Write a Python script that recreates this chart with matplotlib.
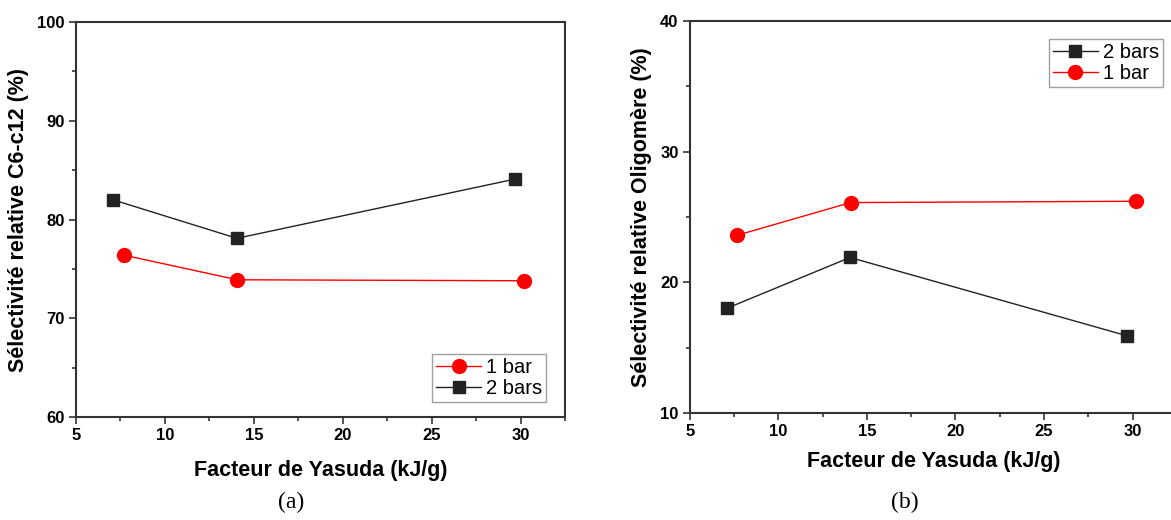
import matplotlib.pyplot as plt
from matplotlib.ticker import MultipleLocator

# Facteur de Yasuda (kJ/g)
x_2bars = [7.08, 14.05, 29.7]
x_1bar = [7.68, 14.08, 30.2]

# (a) Sélectivité relative C6-C12 (%)
c6c12_2bars = [82.0, 78.1, 84.1]
c6c12_1bar = [76.4, 73.9, 73.8]

# (b) Sélectivité relative Oligomère (%)
oligo_2bars = [18.0, 21.9, 15.9]
oligo_1bar = [23.6, 26.1, 26.2]

plt.rcParams['font.family'] = ['Liberation Sans', 'DejaVu Sans']

fig = plt.figure(figsize=(11.71, 5.2), dpi=100)
ax1 = fig.add_axes([0.0649, 0.198, 0.4176, 0.7596])
ax2 = fig.add_axes([0.589, 0.2058, 0.416, 0.754])

spine_col = '#333333'
leg_kw = dict(fontsize=14.5, frameon=True, fancybox=False, edgecolor='#888888',
              handlelength=2.2, handletextpad=0.25, borderpad=0.2,
              labelspacing=0.1, borderaxespad=0)


def style_axis(ax, ylim, ylabel, xpad):
    ax.set_xlim(5, 32.5)
    ax.set_ylim(*ylim)
    ax.xaxis.set_major_locator(MultipleLocator(5))
    ax.xaxis.set_minor_locator(MultipleLocator(2.5))
    ax.yaxis.set_major_locator(MultipleLocator(10))
    ax.yaxis.set_minor_locator(MultipleLocator(5))
    for s in ax.spines.values():
        s.set_linewidth(1.5)
        s.set_color(spine_col)
    ax.tick_params(which='both', direction='out', color=spine_col, width=1.2)
    ax.tick_params(which='major', length=5, labelsize=12, pad=3)
    ax.tick_params(which='minor', length=3)
    for lab in ax.get_xticklabels() + ax.get_yticklabels():
        lab.set_fontweight('bold')
    ax.set_xlabel('Facteur de Yasuda (kJ/g)', fontsize=15.5, fontweight='bold', labelpad=xpad)
    ax.set_ylabel(ylabel, fontsize=15.5, fontweight='bold', labelpad=6)


# (a)
ax1.plot(x_1bar, c6c12_1bar, color='#ff0000', lw=1, marker='o', ms=10, label='1 bar')
ax1.plot(x_2bars, c6c12_2bars, color='#222222', lw=1, marker='s', ms=8.5, label='2 bars')
style_axis(ax1, (60, 100), 'Sélectivité relative C6-c12 (%)', 12)
ax1.legend(loc='lower right', bbox_to_anchor=(0.961, 0.038), **leg_kw)

# (b)
ax2.plot(x_2bars, oligo_2bars, color='#222222', lw=1, marker='s', ms=8.5, label='2 bars')
ax2.plot(x_1bar, oligo_1bar, color='#ff0000', lw=1, marker='o', ms=10, label='1 bar')
style_axis(ax2, (10, 40), 'Sélectivité relative Oligomère (%)', 8.5)
ax2.legend(loc='upper left', bbox_to_anchor=(0.738, 0.955), **leg_kw)

fig.text(0.2485, 0.033, '(a)', fontsize=17, family='Liberation Serif', ha='center', va='center')
fig.text(0.773, 0.033, '(b)', fontsize=17, family='Liberation Serif', ha='center', va='center')

fig.savefig('out.png', dpi=100)
